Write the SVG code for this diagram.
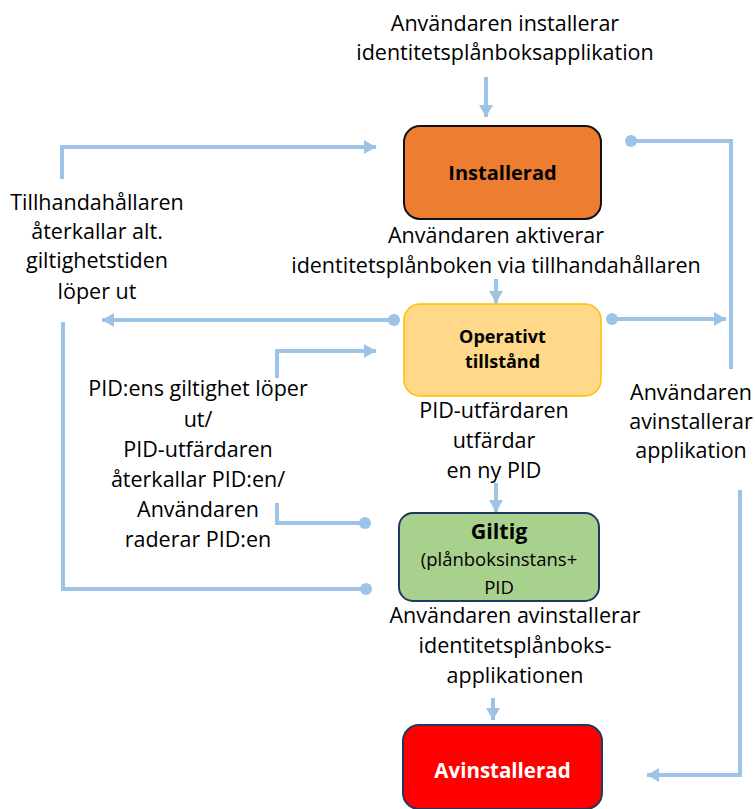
<svg xmlns="http://www.w3.org/2000/svg" width="755" height="809" viewBox="0 0 755 809">
<style>
text{font-family:"Open Sans","Liberation Sans",sans-serif;font-size:21.5px;fill:#000;text-anchor:middle}
.b{font-weight:bold;font-size:20px}
.c{fill:none;stroke:#9DC3E6;stroke-width:4}
.dot{fill:#9DC3E6}
</style>
<defs>
<marker id="ah" viewBox="0 0 12 14" refX="12" refY="7" markerWidth="12" markerHeight="14" markerUnits="userSpaceOnUse" orient="auto">
<path d="M0,0 L12,7 L0,14 Z" fill="#9DC3E6"/>
</marker>
</defs>
<rect width="755" height="809" fill="#fff"/>
<g id="connectors">
<path class="c" d="M486,77 V117" marker-end="url(#ah)"/>
<path class="c" d="M496,279 V303" marker-end="url(#ah)"/>
<path class="c" d="M496,483 V512" marker-end="url(#ah)"/>
<path class="c" d="M493,698 V720" marker-end="url(#ah)"/>
<path class="c" d="M62,179 V147 H376" marker-end="url(#ah)"/>
<path class="c" d="M394,320 H102" marker-end="url(#ah)"/>
<circle class="dot" cx="394" cy="320" r="6"/>
<path class="c" d="M63,322 V589 H366"/>
<circle class="dot" cx="366" cy="589" r="6"/>
<path class="c" d="M277,378 V351 H376" marker-end="url(#ah)"/>
<path class="c" d="M277,503 V523 H365"/>
<circle class="dot" cx="365" cy="523" r="6"/>
<path class="c" d="M631,141 H731 V369"/>
<circle class="dot" cx="631" cy="141" r="6"/>
<path class="c" d="M612,319 H726" marker-end="url(#ah)"/>
<circle class="dot" cx="612" cy="319" r="6"/>
<path class="c" d="M740,490 V775 H647" marker-end="url(#ah)"/>
</g>
<g id="label-install">
<text x="505" y="31">Användaren installerar</text>
<text x="505" y="60">identitetsplånboksapplikation</text>
</g>
<g id="node-installerad">
<rect x="404" y="126" width="197" height="93" rx="16" fill="#ED7D31" stroke="#111" stroke-width="2"/>
<text class="b" x="502.5" y="180">Installerad</text>
</g>
<g id="label-aktiverar">
<text x="496" y="243">Användaren aktiverar</text>
<text x="496" y="273">identitetsplånboken via tillhandahållaren</text>
</g>
<g id="label-tillhandahallaren">
<text x="97" y="210">Tillhandahållaren</text>
<text x="97" y="239">återkallar alt.</text>
<text x="97" y="268">giltighetstiden</text>
<text x="97" y="299">löper ut</text>
</g>
<g id="node-operativt">
<rect x="404" y="304" width="197" height="92" rx="16" fill="#FFD88A" stroke="#FFC000" stroke-width="1.5"/>
<text class="b" x="502.5" y="343" style="font-size:18px">Operativt</text>
<text class="b" x="502.5" y="368" style="font-size:18px">tillstånd</text>
</g>
<g id="label-pid-loop">
<text x="198" y="396">PID:ens giltighet löper</text>
<text x="198" y="427">ut/</text>
<text x="198" y="457">PID-utfärdaren</text>
<text x="198" y="487">återkallar PID:en/</text>
<text x="198" y="517">Användaren</text>
<text x="198" y="547">raderar PID:en</text>
</g>
<g id="label-utfardar">
<text x="494" y="418">PID-utfärdaren</text>
<text x="494" y="448">utfärdar</text>
<text x="494" y="478">en ny PID</text>
</g>
<g id="label-avinstallerar-app">
<text x="691" y="400">Användaren</text>
<text x="691" y="429">avinstallerar</text>
<text x="691" y="458">applikation</text>
</g>
<g id="node-giltig">
<rect x="399" y="513" width="200" height="88" rx="14" fill="#A9D18E" stroke="#203864" stroke-width="2"/>
<text class="b" x="499" y="539" style="font-size:21.5px">Giltig</text>
<text x="499" y="566" style="font-size:18.5px">(plånboksinstans+</text>
<text x="499" y="594" style="font-size:18.5px">PID</text>
</g>
<g id="label-avinstallerar">
<text x="515" y="623">Användaren avinstallerar</text>
<text x="515" y="653">identitetsplånboks-</text>
<text x="515" y="683">applikationen</text>
</g>
<g id="node-avinstallerad">
<rect x="403" y="725" width="199" height="84" rx="16" fill="#FF0000" stroke="#203864" stroke-width="2"/>
<text class="b" x="502.5" y="778" style="fill:#fff;font-size:20.5px">Avinstallerad</text>
</g>
</svg>
